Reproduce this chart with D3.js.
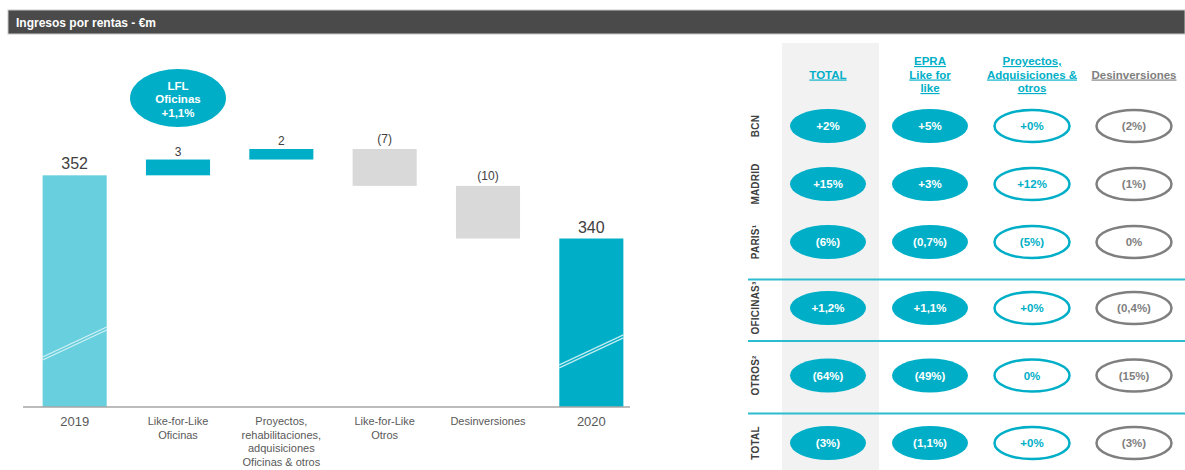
<!DOCTYPE html>
<html>
<head>
<meta charset="utf-8">
<script src="https://cdn.jsdelivr.net/npm/d3@7"></script>
<style>
  body { margin: 0; background: #fff; }
  svg { font-family: "Liberation Sans", Arial, sans-serif; display: block; }
</style>
</head>
<body>
<div id="chart"></div>
<script>
// waterfall data
const categories = ["2019", "Like-for-Like\nOficinas", "Proyectos,\nrehabilitaciones,\nadquisiciones\nOficinas & otros", "Like-for-Like\nOtros", "Desinversiones", "2020"];
const values = [352, 3, 2, -7, -10, 340];
const valueLabels = ["352", "3", "2", "(7)", "(10)", "340"];
const kinds = ["start", "up", "up", "down", "down", "end"];
const breakAt = [317.5, 316];

// table data
const columns = ["TOTAL", "EPRA\nLike for\nlike", "Proyectos,\nAdquisiciones  &\notros", "Desinversiones"];
const rows = ["BCN", "MADRID", "PARIS¹", "OFICINAS³", "OTROS²", "TOTAL"];
const colTotal = ["+2%", "+15%", "(6%)", "+1,2%", "(64%)", "(3%)"];
const colEpra = ["+5%", "+3%", "(0,7%)", "+1,1%", "(49%)", "(1,1%)"];
const colProy = ["+0%", "+12%", "(5%)", "+0%", "0%", "+0%"];
const colDesinv = ["(2%)", "(1%)", "0%", "(0,4%)", "(15%)", "(3%)"];

const W = 1185, H = 470;
const teal = "#00afc7", lightTeal = "#67cfdd", grey = "#d9d9d9", txt = "#404040";

const svg = d3.select("#chart").append("svg").attr("width", W).attr("height", H);

// header bar
svg.append("rect").attr("x", 8).attr("y", 10).attr("width", W - 8).attr("height", 24)
  .attr("fill", "#4a4a4a").attr("stroke", "#c8c8c8").attr("stroke-width", 1);
svg.append("text").attr("x", 16).attr("y", 27).attr("fill", "#fff")
  .attr("font-size", 12).attr("font-weight", "bold").text("Ingresos por rentas - €m");

// ---- waterfall ----
const x = d3.scaleBand().domain(categories).range([23, 643]).paddingInner(0.38).paddingOuter(0.19);
const y = d3.scaleLinear().domain([308, 357]).range([407, 149]);

let run = 0;
const steps = values.map((v, i) => {
  let lo, hi;
  if (kinds[i] === "start" || kinds[i] === "end") { lo = 308; hi = v; run = v; }
  else { const prev = run; run += v; lo = Math.min(prev, run); hi = Math.max(prev, run); }
  return { cat: categories[i], kind: kinds[i], lo, hi, label: valueLabels[i] };
});

const fillOf = k => k === "start" ? lightTeal : k === "down" ? grey : teal;

svg.selectAll(".bar").data(steps).enter().append("rect")
  .attr("class", "bar")
  .attr("x", d => x(d.cat))
  .attr("width", x.bandwidth())
  .attr("y", d => y(d.hi))
  .attr("height", d => y(d.lo) - y(d.hi))
  .attr("fill", d => fillOf(d.kind));

svg.selectAll(".vlabel").data(steps).enter().append("text")
  .attr("class", "vlabel")
  .attr("x", d => x(d.cat) + x.bandwidth() / 2)
  .attr("y", d => y(d.hi) - (d.kind === "up" ? 4 : 6))
  .attr("text-anchor", "middle")
  .attr("fill", txt)
  .attr("font-size", d => (d.kind === "start" || d.kind === "end") ? 16 : 12)
  .text(d => d.label);

// axis break marks on total bars
const totals = steps.filter(d => d.kind === "start" || d.kind === "end");
totals.forEach((d, i) => {
  const x0 = x(d.cat), x1 = x0 + x.bandwidth(), yb = y(breakAt[i]);
  [0, 3].forEach(off => {
    svg.append("line").attr("x1", x0).attr("x2", x1)
      .attr("y1", yb + off).attr("y2", yb - 30 + off)
      .attr("stroke", "#e6f7fa").attr("stroke-width", 1.2).attr("opacity", 0.85);
  });
});

// axis
const axis = svg.append("g").attr("transform", `translate(0,${y(308)})`)
  .call(d3.axisBottom(x).tickSize(0).tickFormat(""));
axis.select(".domain").remove();
svg.append("line").attr("x1", 23).attr("x2", 630).attr("y1", y(308)).attr("y2", y(308))
  .attr("stroke", "#a6a6a6").attr("stroke-width", 1.5);
axis.selectAll(".tick").each(function(d) {
  const lines = d.split("\n");
  const big = d === "2019" || d === "2020";
  const t = d3.select(this).append("text")
    .attr("text-anchor", "middle").attr("fill", "#595959")
    .attr("font-size", big ? 13 : 11).attr("y", big ? 19 : 18);
  lines.forEach((l, i) => t.append("tspan").attr("x", 0).attr("dy", i ? 13.7 : 0).text(l));
});

// LFL bubble
const bx = x(categories[1]) + x.bandwidth() / 2;
svg.append("ellipse").attr("cx", bx).attr("cy", 98).attr("rx", 48).attr("ry", 29).attr("fill", teal);
const bt = svg.append("text").attr("text-anchor", "middle").attr("fill", "#fff")
  .attr("font-size", 11.5).attr("font-weight", "bold").attr("y", 90);
["LFL", "Oficinas", "+1,1%"].forEach((l, i) => bt.append("tspan").attr("x", bx).attr("dy", i ? 13.3 : 0).text(l));

// ---- table ----
const cx = d3.scalePoint().domain(columns).range([828, 1134]);
const ry = d3.scaleLinear().domain([0, 2, 3, 5]).range([126, 242, 308, 443]);

svg.append("rect").attr("x", 782).attr("y", 43).attr("width", 97).attr("height", H - 43).attr("fill", "#f2f2f2");

[279.5, 341, 413.5].forEach(yy => {
  svg.append("line").attr("x1", 748).attr("x2", W).attr("y1", yy).attr("y2", yy)
    .attr("stroke", "#2cbcd0").attr("stroke-width", 1.8);
});

columns.forEach((c, ci) => {
  const lines = c.split("\n");
  const t = svg.append("text").attr("text-anchor", "middle")
    .attr("fill", ci === 3 ? "#7f7f7f" : teal)
    .attr("font-size", 11.5).attr("font-weight", "bold")
    .style("text-decoration", "underline")
    .attr("y", 78.5 - (lines.length - 1) * 13.5 / 2);
  lines.forEach((l, i) => t.append("tspan").attr("x", cx(c)).attr("dy", i ? 13.5 : 0).text(l));
});

rows.forEach((r, i) => {
  svg.append("text").attr("transform", `translate(759,${ry(i)}) rotate(-90)`)
    .attr("text-anchor", "middle").attr("fill", txt)
    .attr("font-size", 10).attr("font-weight", "bold").attr("letter-spacing", 0.2)
    .text(r);
});

const tableCols = [colTotal, colEpra, colProy, colDesinv];
const styles = [
  { fill: teal, stroke: "none", text: "#fff", rx: 38, ry: 17 },
  { fill: teal, stroke: "none", text: "#fff", rx: 38, ry: 17 },
  { fill: "#fff", stroke: teal, text: teal, rx: 37.5, ry: 16 },
  { fill: "#fff", stroke: "#7f7f7f", text: "#7f7f7f", rx: 37.5, ry: 16 }
];

tableCols.forEach((vals, ci) => {
  const s = styles[ci];
  const g = svg.append("g");
  g.selectAll("ellipse").data(vals).enter().append("ellipse")
    .attr("cx", cx(columns[ci])).attr("cy", (d, i) => ry(i))
    .attr("rx", s.rx).attr("ry", s.ry)
    .attr("fill", s.fill).attr("stroke", s.stroke).attr("stroke-width", 2.5);
  g.selectAll("text").data(vals).enter().append("text")
    .attr("x", cx(columns[ci])).attr("y", (d, i) => ry(i) + 4)
    .attr("text-anchor", "middle").attr("fill", s.text)
    .attr("font-size", 11.5).attr("font-weight", "bold")
    .text(d => d);
});
</script>
</body>
</html>
